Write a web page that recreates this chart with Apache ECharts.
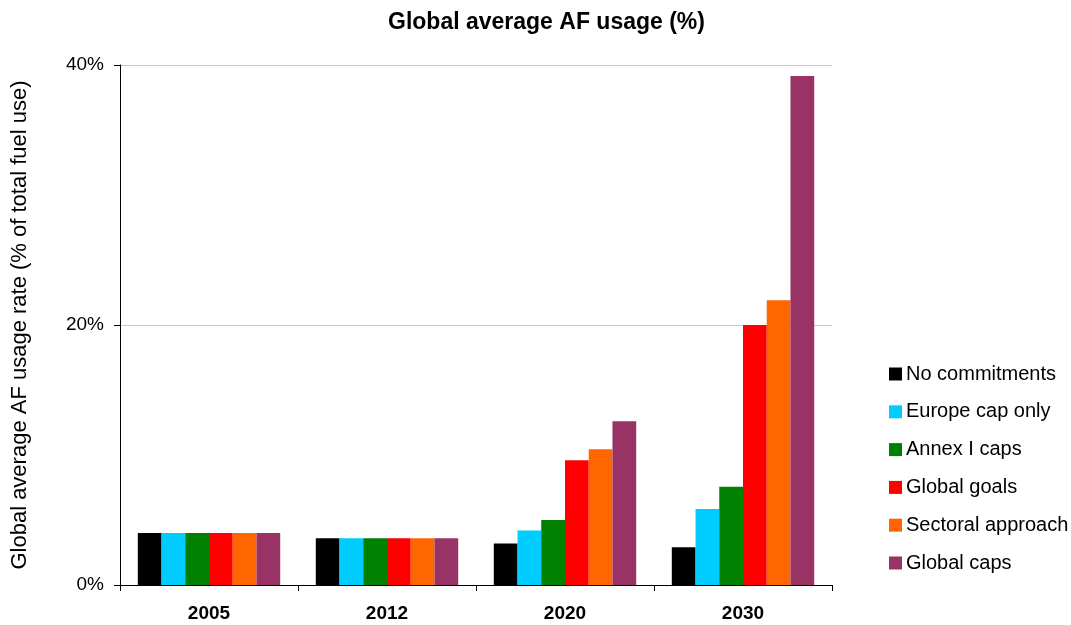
<!DOCTYPE html>
<html>
<head>
<meta charset="utf-8">
<script src="https://cdn.jsdelivr.net/npm/echarts@6/dist/echarts.min.js"></script>
<style>html,body{margin:0;padding:0;background:#fff}#c{width:1071px;height:625px}</style>
</head>
<body>
<div id="c"></div>
<script>
const categories = ['2005', '2012', '2020', '2030'];
const seriesNames = ['No commitments', 'Europe cap only', 'Annex I caps', 'Global goals', 'Sectoral approach', 'Global caps'];
const noCommitments = [4.0, 3.6, 3.2, 2.9];
const europeCapOnly = [4.0, 3.6, 4.2, 5.85];
const annexICaps = [4.0, 3.6, 5.0, 7.55];
const globalGoals = [4.0, 3.6, 9.6, 20.0];
const sectoralApproach = [4.0, 3.6, 10.45, 21.9];
const globalCaps = [4.0, 3.6, 12.6, 39.15];
const yTicks = [0, 20, 40];
const colors = ['#000000', '#00CCFF', '#008000', '#FF0000', '#FF6600', '#993366'];
const values = [noCommitments, europeCapOnly, annexICaps, globalGoals, sectoralApproach, globalCaps];

const FONT = '"Liberation Sans", Arial, sans-serif';
const chart = echarts.init(document.getElementById('c'), null, {renderer: 'canvas'});
chart.setOption({
  animation: false,
  backgroundColor: '#ffffff',
  textStyle: {fontFamily: FONT},
  title: {
    text: 'Global average AF usage (%)',
    left: 388, top: 11, padding: 0,
    textStyle: {fontFamily: FONT, fontSize: 23, fontWeight: 'bold', color: '#000'}
  },
  legend: {
    orient: 'vertical', left: 889, top: 364, padding: 0,
    itemWidth: 13, itemHeight: 13, itemGap: 17.8,
    icon: 'rect',
    data: seriesNames,
    textStyle: {fontFamily: FONT, fontSize: 20, color: '#000', padding: [0, 0, 0, -1]}
  },
  grid: {left: 120, right: 239, top: 65, bottom: 40, containLabel: false},
  xAxis: {
    type: 'category', data: categories,
    axisLine: {lineStyle: {color: '#000', width: 1}},
    axisTick: {show: true, length: 6, lineStyle: {color: '#000'}, alignWithLabel: false},
    axisLabel: {fontFamily: FONT, fontSize: 19, fontWeight: 'bold', color: '#000', margin: 19}
  },
  yAxis: {
    type: 'value', min: yTicks[0], max: yTicks[yTicks.length - 1], interval: 20,
    name: 'Global average AF usage rate (% of total fuel use)',
    nameLocation: 'middle', nameGap: 89,
    nameTextStyle: {fontFamily: FONT, fontSize: 22, color: '#000'},
    axisLine: {show: true, lineStyle: {color: '#000', width: 1}},
    axisTick: {show: true, length: 6, lineStyle: {color: '#000'}},
    axisLabel: {fontFamily: FONT, fontSize: 19, color: '#000', margin: 16, formatter: '{value}%'},
    splitLine: {show: true, lineStyle: {color: '#c8c8c8', width: 1}}
  },
  series: seriesNames.map((n, i) => ({
    name: n, type: 'bar', data: values[i],
    barGap: '0%', barCategoryGap: '20%',
    itemStyle: {color: colors[i]}
  }))
});
</script>
</body>
</html>
